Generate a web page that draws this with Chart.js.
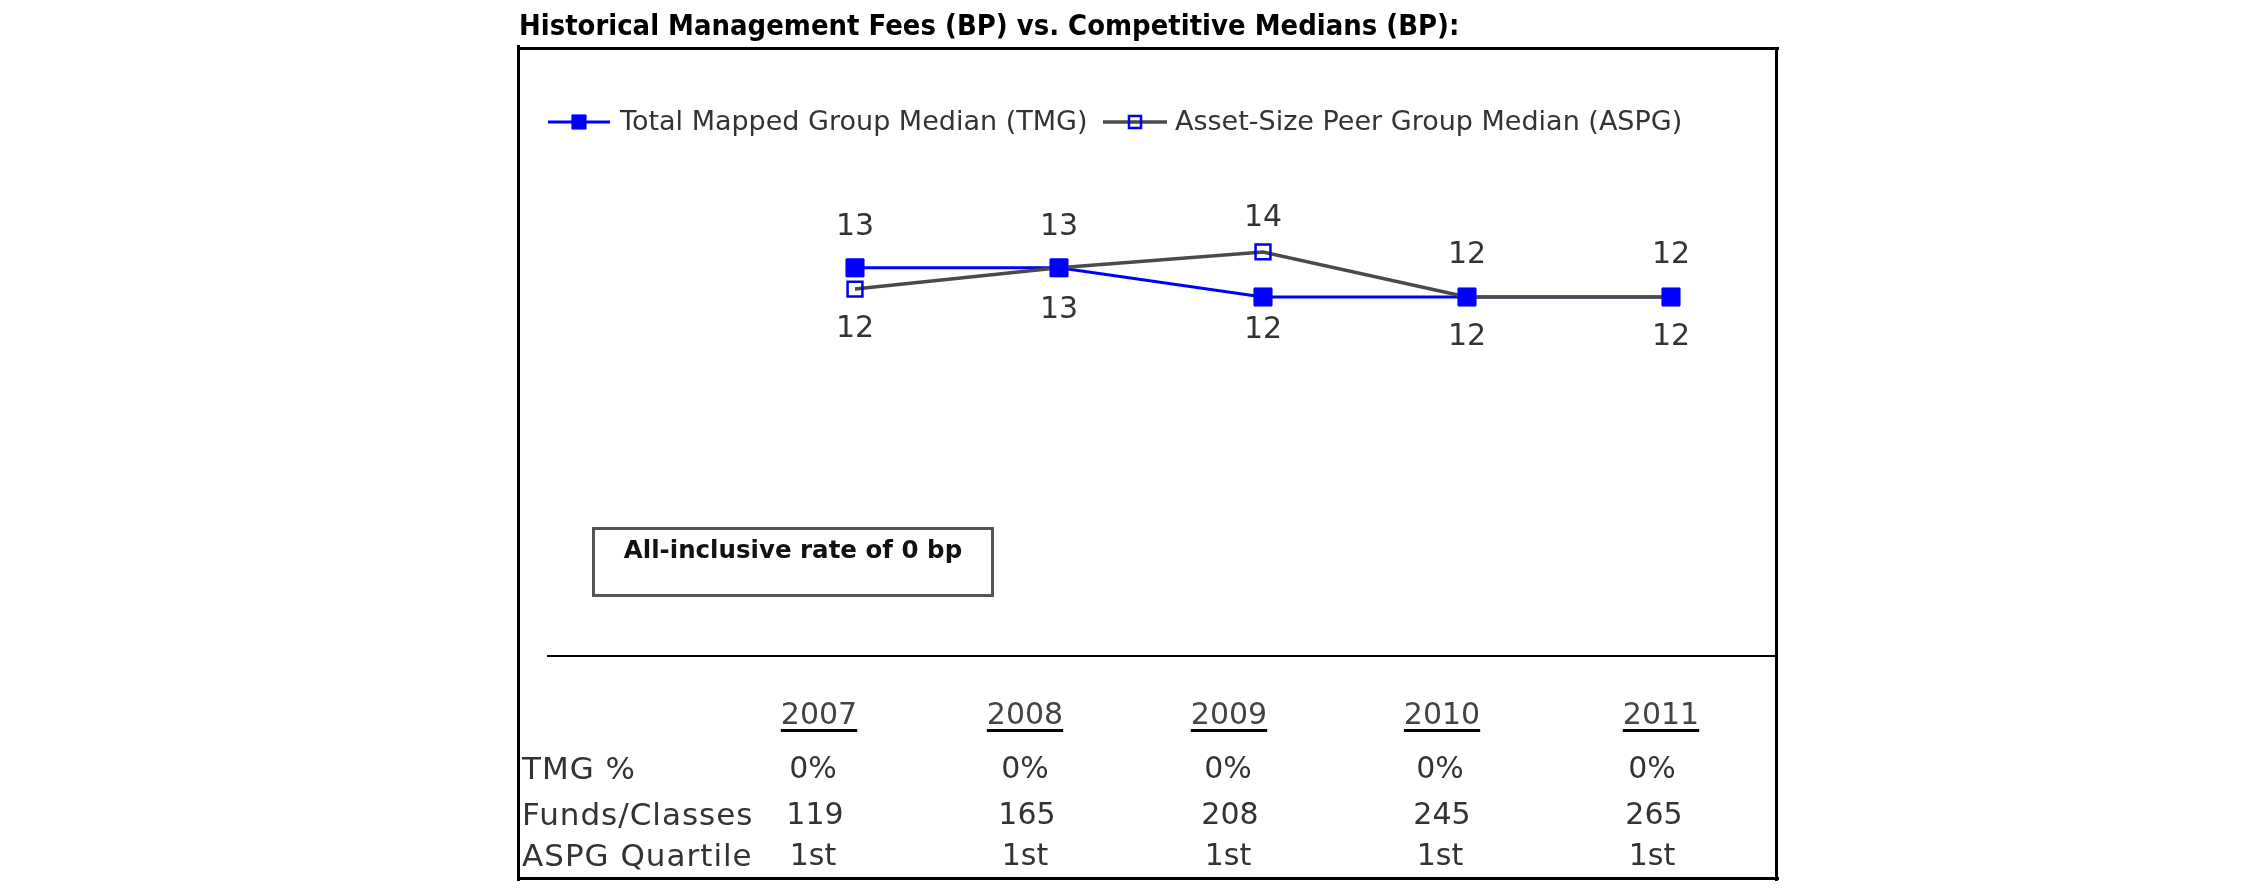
<!DOCTYPE html>
<html>
<head>
<meta charset="utf-8">
<script src="https://cdn.jsdelivr.net/npm/chart.js@4.4.0/dist/chart.umd.min.js"></script>
<style>
  html, body { margin: 0; padding: 0; background: #fff; }
  #wrap { position: relative; width: 2250px; height: 895px; overflow: hidden; font-family: "DejaVu Sans", Verdana, sans-serif; }
  #chart { position: absolute; left: 0; top: 0; }
  .abs { position: absolute; white-space: nowrap; }
  .line { position: absolute; background: #000; }
  #title { left: 519px; top: 8px; font-size: 26px; font-weight: bold; color: #000; line-height: 36px; transform: scaleY(1.12); transform-origin: 0 80%; }
  #box { left: 592px; top: 527px; width: 396px; height: 64px; border: 3px solid #555; box-sizing: content-box; }
  #boxtext { left: 592px; top: 533px; width: 402px; text-align: center; font-size: 24.5px; font-weight: bold; color: #111; line-height: 34px; }
  .cell { position: absolute; transform: translate(-50%, -50%); font-size: 30px; color: #333; line-height: 36px; white-space: nowrap; }
  .hdr { text-decoration: underline; text-decoration-color: #000; text-decoration-thickness: 3px; text-underline-offset: 5px; color: #444; }
  .rowlab { position: absolute; transform: translate(0, -50%); font-size: 31px; letter-spacing: 1px; color: #333; line-height: 36px; white-space: nowrap; }
</style>
</head>
<body>
<div id="wrap">
  <canvas id="chart" width="2250" height="895"></canvas>
  <div id="title" class="abs">Historical Management Fees (BP) vs. Competitive Medians (BP):</div>
  <div class="line" style="left:517px; top:47px; width:1262px; height:3px;"></div>
  <div class="line" style="left:517px; top:45px; width:3px; height:836px;"></div>
  <div class="line" style="left:1775px; top:47px; width:3px; height:834px;"></div>
  <div class="line" style="left:517px; top:877px; width:1262px; height:3px;"></div>
  <div class="line" style="left:547px; top:655px; width:1230px; height:2px;"></div>
  <div id="box" class="abs"></div>
  <div id="boxtext" class="abs">All-inclusive rate of 0 bp</div>
  <div id="table"></div>
</div>
<script>
// ---- Data ----
const years = ['2007', '2008', '2009', '2010', '2011'];
const tmgMedian = [13.1, 13.1, 12.0, 12.0, 12.0];
const aspgMedian = [12.3, 13.1, 13.7, 12.0, 12.0];
const tmgPct = [0, 0, 0, 0, 0];
const fundsClasses = [119, 165, 208, 245, 265];
const aspgQuartile = ['1st', '1st', '1st', '1st', '1st'];
const seriesNames = ['Total Mapped Group Median (TMG)', 'Asset-Size Peer Group Median (ASPG)'];
const rowLabels = ['TMG %', 'Funds/Classes', 'ASPG Quartile'];

// ---- Layout constants (label gaps from marker, px) ----
const labelGap = [[41, 42, 33, 40, 40], [40, 41, 34, 42, 42]];

// ---- Table (HTML) ----
const hdrX = [819, 1025, 1229, 1442, 1661];
const valX = [813, 1025, 1228, 1440, 1652];
const table = document.getElementById('table');
function addCell(text, x, y, cls) {
  const d = document.createElement('div');
  d.className = 'cell' + (cls ? ' ' + cls : '');
  d.style.left = x + 'px';
  d.style.top = y + 'px';
  d.textContent = text;
  table.appendChild(d);
}
years.forEach((y, i) => addCell(y, hdrX[i], 714, 'hdr'));
tmgPct.forEach((v, i) => addCell(v + '%', valX[i], 768));
fundsClasses.forEach((v, i) => addCell(String(v), valX[i] + 2, 814));
aspgQuartile.forEach((v, i) => addCell(v, valX[i], 855));
[768, 814, 855].forEach((yy, r) => {
  const d = document.createElement('div');
  d.className = 'rowlab';
  d.style.left = '522px';
  d.style.top = yy + 'px';
  d.textContent = rowLabels[r];
  table.appendChild(d);
});

// ---- Plugins ----
const valueLabels = {
  id: 'valueLabels',
  afterDatasetsDraw(chart) {
    const ctx = chart.ctx;
    // TMG markers sit above the ASPG line
    chart.getDatasetMeta(0).data.forEach(p => p.draw(ctx, chart.chartArea));
    ctx.save();
    ctx.font = '30px "DejaVu Sans", Verdana, sans-serif';
    ctx.fillStyle = '#333';
    ctx.textAlign = 'center';
    ctx.textBaseline = 'middle';
    const ds = chart.data.datasets;
    ds.forEach((d, di) => {
      const meta = chart.getDatasetMeta(di);
      const other = ds[1 - di].data;
      meta.data.forEach((pt, i) => {
        const v = d.data[i];
        const o = other[i];
        const above = v > o || (v === o && di === 1);
        const gap = labelGap[di][i];
        const y = above ? pt.y - gap : pt.y + gap;
        ctx.fillText(String(Math.round(v)), pt.x, y);
      });
    });
    ctx.restore();
  }
};

const customLegend = {
  id: 'customLegend',
  afterDraw(chart) {
    const ctx = chart.ctx;
    const items = [
      { lineFrom: 548, lineTo: 610, textX: 620 },
      { lineFrom: 1103, lineTo: 1167, textX: 1175 }
    ];
    const y = 122;
    ctx.save();
    chart.data.datasets.forEach((d, i) => {
      const it = items[i];
      ctx.strokeStyle = d.borderColor;
      ctx.lineWidth = d.borderWidth;
      ctx.beginPath();
      ctx.moveTo(it.lineFrom, y);
      ctx.lineTo(it.lineTo, y);
      ctx.stroke();
      ctx.fillStyle = d.pointBackgroundColor;
      ctx.strokeStyle = d.pointBorderColor;
      ctx.lineWidth = d.pointBorderWidth;
      Chart.helpers.drawPoint(ctx, { pointStyle: 'rect', radius: i === 0 ? 10 : 8.5, borderWidth: d.pointBorderWidth }, (it.lineFrom + it.lineTo) / 2, y);
      ctx.font = '27px "DejaVu Sans", Verdana, sans-serif';
      ctx.fillStyle = '#333';
      ctx.textAlign = 'left';
      ctx.textBaseline = 'middle';
      ctx.fillText(seriesNames[i], it.textX, y + 1);
    });
    ctx.restore();
  }
};

new Chart(document.getElementById('chart'), {
  type: 'line',
  data: {
    labels: years,
    datasets: [
      {
        label: seriesNames[0],
        data: tmgMedian,
        order: 1,
        borderColor: '#0000FF',
        borderWidth: 3,
        pointStyle: 'rect',
        pointRadius: 12.5,
        pointBackgroundColor: '#0000FF',
        pointBorderColor: '#0000FF',
        pointBorderWidth: 1,
        tension: 0
      },
      {
        label: seriesNames[1],
        data: aspgMedian,
        order: 0,
        borderColor: '#4a4a4a',
        borderWidth: 3.5,
        pointStyle: 'rect',
        pointRadius: 10.5,
        pointBackgroundColor: 'rgba(255,255,255,0)',
        pointBorderColor: '#0000EE',
        pointBorderWidth: 2.5,
        tension: 0
      }
    ]
  },
  options: {
    responsive: false,
    animation: false,
    events: [],
    layout: { padding: { left: 855, right: 579, top: 191, bottom: 492 } },
    scales: {
      x: { type: 'category', display: false, offset: false },
      y: { display: false, min: 8, max: 16 }
    },
    plugins: { legend: { display: false }, tooltip: { enabled: false }, title: { display: false } }
  },
  plugins: [valueLabels, customLegend]
});
</script>
</body>
</html>
